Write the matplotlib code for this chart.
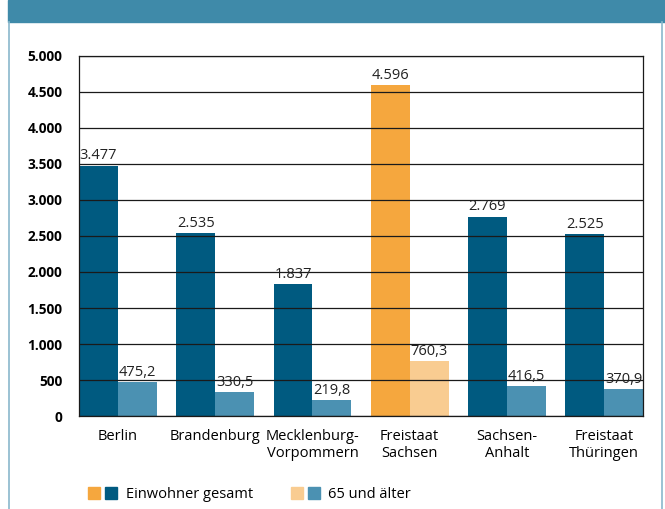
import matplotlib

matplotlib.use("Agg")
import matplotlib.pyplot as plt
import numpy as np
from matplotlib.patches import Patch, Rectangle
from matplotlib.legend_handler import HandlerTuple
from matplotlib.ticker import FuncFormatter

plt.rcParams["font.family"] = ["Open Sans", "DejaVu Sans"]

# Daten (Tausend Einwohner)
laender = ["Berlin", "Brandenburg", "Mecklenburg-\nVorpommern", "Freistaat\nSachsen",
           "Sachsen-\nAnhalt", "Freistaat\nThüringen"]
gesamt = [3477, 2535, 1837, 4596, 2769, 2525]
ab65 = [475.2, 330.5, 219.8, 760.3, 416.5, 370.9]
highlight = "Freistaat\nSachsen"

dunkelblau = "#005a80"
hellblau = "#4b91b2"
orange = "#f5a73e"
hellorange = "#f9cc91"
rahmen = "#3f8aa9"


def de_fmt(v, nachkomma=0):
    s = f"{v:,.{nachkomma}f}"
    return s.replace(",", "X").replace(".", ",").replace("X", ".")


fig = plt.figure(figsize=(6.65, 5.09), dpi=100)

# Kopfbalken + seitliche Linien
fig.patches.append(Rectangle((0.012, 0.957), 0.988, 0.043, transform=fig.transFigure,
                             color=rahmen, zorder=0))
fig.add_artist(plt.Line2D([0.014, 0.014], [0, 0.957], transform=fig.transFigure,
                          color="#8ab8cc", lw=1.2))
fig.add_artist(plt.Line2D([0.996, 0.996], [0, 0.957], transform=fig.transFigure,
                          color="#8ab8cc", lw=1.2))

ax = fig.add_axes([0.1188, 0.1827, 0.8482, 0.7073])
x = np.arange(len(laender))
w = 0.4
c1 = [orange if l == highlight else dunkelblau for l in laender]
c2 = [hellorange if l == highlight else hellblau for l in laender]
b1 = ax.bar(x - w / 2, gesamt, w, color=c1, zorder=1)
b2 = ax.bar(x + w / 2, ab65, w, color=c2, zorder=1)

for r, v in zip(b1, gesamt):
    ax.text(r.get_x() + r.get_width() / 2, v + 30, de_fmt(v), ha="center", va="bottom",
            fontsize=10.5, color="#222222", zorder=3)
for r, v in zip(b2, ab65):
    ax.text(r.get_x() + r.get_width() / 2, v + 30, de_fmt(v, 1), ha="center", va="bottom",
            fontsize=10.5, color="#222222", zorder=3)

ax.set_xlim(-0.4, 5.4)
ax.set_ylim(0, 5000)
ax.set_yticks(np.arange(0, 5001, 500))
ax.yaxis.set_major_formatter(FuncFormatter(lambda v, p: de_fmt(v)))
ax.grid(axis="y", color="#1a1a1a", lw=0.9, zorder=2)
ax.set_axisbelow(False)
for sp in ax.spines.values():
    sp.set_color("#1a1a1a")
    sp.set_linewidth(0.9)
ax.set_xticks(x)
ax.set_xticklabels(laender, fontsize=10.5, linespacing=1.25)
ax.tick_params(axis="x", length=0, pad=9)
ax.tick_params(axis="y", length=0, pad=12, labelsize=9.8)
for t in ax.get_yticklabels():
    t.set_fontweight("bold")

handles = [(Patch(color=orange), Patch(color=dunkelblau)),
           (Patch(color=hellorange), Patch(color=hellblau))]
fig.legend(handles, ["Einwohner gesamt", "65 und älter"], ncol=2, frameon=False,
           loc="center left", bbox_to_anchor=(0.112, 0.028), fontsize=10.5,
           handler_map={tuple: HandlerTuple(ndivide=None, pad=0.35)},
           handlelength=2.0, handleheight=0.9, columnspacing=2.6, handletextpad=0.6)

fig.savefig("out.png", dpi=100, facecolor="white")
